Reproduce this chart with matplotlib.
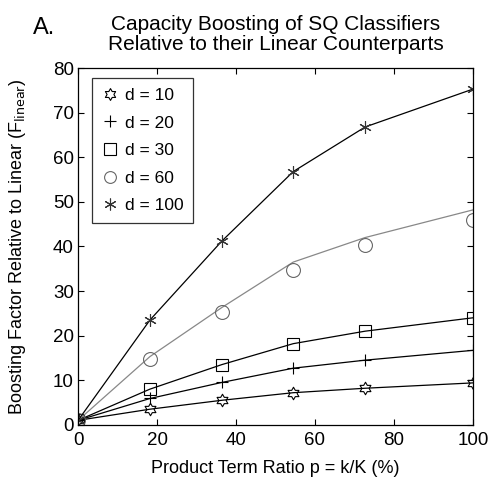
import numpy as np
import matplotlib
matplotlib.use("Agg")
import matplotlib.pyplot as plt
from matplotlib.path import Path
from matplotlib.lines import Line2D

plt.rcParams['font.family'] = ['Liberation Sans', 'DejaVu Sans']

x = [0, 18.2, 36.4, 54.5, 72.7, 100]
d10 = [1, 3.5, 5.5, 7.2, 8.2, 9.4]
d20 = [1, 5.9, 9.5, 12.7, 14.5, 16.7]
d30 = [1, 8.0, 13.5, 18.2, 21.0, 24.0]
d60_pts = [1, 14.7, 25.3, 34.8, 40.3, 46.0]
d60_fit = [1, 15.3, 26.3, 36.5, 42.0, 48.2]
d100 = [1, 23.5, 41.2, 56.8, 66.8, 75.3]
labels = ['d = 10', 'd = 20', 'd = 30', 'd = 60', 'd = 100']

# hexagram marker
angs = np.deg2rad(np.arange(12) * 30 + 90)
r = np.where(np.arange(12) % 2 == 0, 1.0, 1 / np.sqrt(3))
verts = np.column_stack([r * np.cos(angs), r * np.sin(angs)])
verts = np.vstack([verts, verts[:1]])
codes = [Path.MOVETO] + [Path.LINETO] * 11 + [Path.CLOSEPOLY]
hexagram = Path(verts, codes)
asterisk = (6, 2, 0)

fig = plt.figure(figsize=(4.88, 4.8), dpi=100)
ax = fig.add_axes([0.160, 0.115, 0.809, 0.743])

lw = 0.9
styles = [
    dict(marker=hexagram, ms=9, mec='black'),
    dict(marker='+', ms=9, mec='black'),
    dict(marker='s', ms=8, mec='black'),
    dict(marker='o', ms=10, mec='#666666'),
    dict(marker=asterisk, ms=9, mec='#333333'),
]
ax.plot(x, d10, color='black', lw=lw, mfc='none', mew=0.8, **styles[0])
ax.plot(x, d20, color='black', lw=lw, mfc='none', mew=0.8, **styles[1])
ax.plot(x, d30, color='black', lw=lw, mfc='none', mew=0.8, **styles[2])
ax.plot(x, d60_fit, color='#888888', lw=lw)
ax.plot(x, d60_pts, ls='none', mfc='none', mew=0.8, **styles[3])
ax.plot(x, d100, color='black', lw=lw, mfc='none', mew=0.8, **styles[4])

ax.set_xlim(0, 100)
ax.set_ylim(0, 80)
ax.set_xticks([0, 20, 40, 60, 80, 100])
ax.set_yticks(range(0, 81, 10))
ax.tick_params(direction='in', top=True, right=True, labelsize=13.5, length=4, width=0.8, pad=3)
ax.tick_params(axis='x', pad=5)
for s in ax.spines.values():
    s.set_linewidth(0.9)

ax.set_xlabel('Product Term Ratio p = k/K (%)', fontsize=13, labelpad=8)
ax.set_ylabel('Boosting Factor Relative to Linear (F$_{\\mathrm{linear}}$)', fontsize=13, labelpad=18)
ax.set_title('Capacity Boosting of SQ Classifiers\nRelative to their Linear Counterparts',
             fontsize=15, pad=13, linespacing=1.1)
fig.text(0.068, 0.965, 'A.', fontsize=17, va='top')

handles = []
for st in styles:
    h = Line2D([], [], ls='none', mfc='none', mew=0.8, **{k: v for k, v in st.items() if k != 'ms'})
    h.set_markersize(min(st['ms'], 8.5))
    handles.append(h)
leg = ax.legend(handles, labels, loc='upper left', bbox_to_anchor=(0.036, 0.972), borderaxespad=0,
                fontsize=12.5, frameon=True, fancybox=False, edgecolor='black', labelspacing=0.72,
                handlelength=0.9, handletextpad=0.45, borderpad=0.55, numpoints=1)
leg.get_frame().set_linewidth(0.9)

fig.savefig('out.png', dpi=100)
